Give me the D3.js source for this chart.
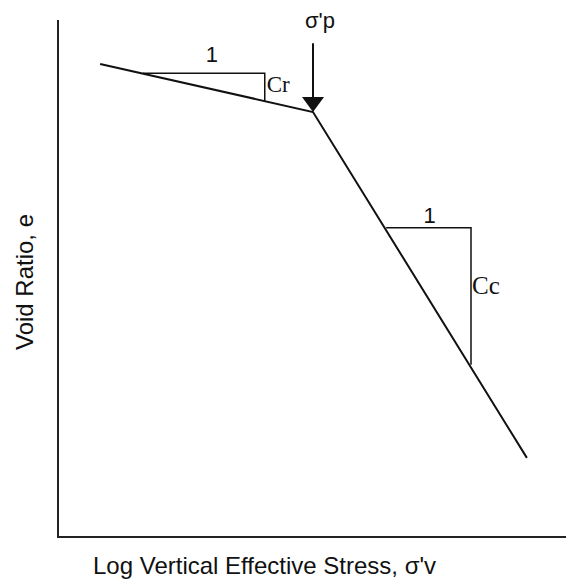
<!DOCTYPE html>
<html>
<head>
<meta charset="utf-8">
<script src="https://cdn.jsdelivr.net/npm/d3@7"></script>
<style>
  body { margin: 0; background: #fff; }
  text { fill: #111; }
  .sans { font-family: "Liberation Sans", Arial, sans-serif; }
  .serif { font-family: "Liberation Serif", "Times New Roman", serif; }
</style>
</head>
<body>
<div class="item"></div>
<script>
var width = 566;
var height = 581;

// e - log(sigma'v) curve, x in log cycles, y in void ratio (arbitrary units)
var curveLogStress = [0.83, 5.02, 9.23];
var curveVoidRatio = [9.15, 8.22, 1.53];

// slope triangles
var crLogStress = [1.67, 4.07];
var crVoidRatio = [8.97, 8.43];
var ccLogStress = [6.46, 8.13];
var ccVoidRatio = [5.98, 3.33];

// preconsolidation arrow top
var arrowTopVoidRatio = 9.55;

var labels = { x: "Log Vertical Effective Stress, σ'v", y: "Void Ratio, e",
               pc: "σ'p", cr: "Cr", cc: "Cc", run: "1" };

var x = d3.scaleLinear().domain([0, 10]).range([58, 566]);
var y = d3.scaleLinear().domain([0, 10]).range([537, 20]);

var svg = d3.select(".item")
    .append("svg")
    .attr("width", width)
    .attr("height", height);

// axes (plain lines, no ticks)
svg.append("line")
    .attr("x1", x(0)).attr("y1", y(10))
    .attr("x2", x(0)).attr("y2", y(0))
    .attr("stroke", "#222").attr("stroke-width", 2);
svg.append("line")
    .attr("x1", x(0) - 1).attr("y1", y(0))
    .attr("x2", x(10)).attr("y2", y(0))
    .attr("stroke", "#222").attr("stroke-width", 2);

// curve
var pts = curveLogStress.map(function(d, i) { return [d, curveVoidRatio[i]]; });
var line = d3.line()
    .x(function(d) { return x(d[0]); })
    .y(function(d) { return y(d[1]); });

svg.append("path")
    .attr("d", line(pts))
    .attr("fill", "none")
    .attr("stroke", "#111")
    .attr("stroke-width", 2);

// triangles
function triangle(xs, ys) {
    return line([[xs[0], ys[0]], [xs[1], ys[0]], [xs[1], ys[1]]]);
}
svg.append("path")
    .attr("d", triangle(crLogStress, crVoidRatio))
    .attr("fill", "none").attr("stroke", "#111").attr("stroke-width", 1.5);
svg.append("path")
    .attr("d", triangle(ccLogStress, ccVoidRatio))
    .attr("fill", "none").attr("stroke", "#111").attr("stroke-width", 1.5);

// arrow to preconsolidation point
var kx = x(curveLogStress[1]), ky = y(curveVoidRatio[1]);
svg.append("line")
    .attr("x1", kx).attr("y1", y(arrowTopVoidRatio))
    .attr("x2", kx).attr("y2", ky - 10)
    .attr("stroke", "#111").attr("stroke-width", 2);
svg.append("path")
    .attr("d", "M" + (kx - 11) + "," + (ky - 15) + "L" + (kx + 11) + "," + (ky - 15) + "L" + kx + "," + ky + "Z")
    .attr("fill", "#111");

// labels
svg.append("text").attr("class", "sans")
    .attr("x", kx - 8).attr("y", 28)
    .style("font-size", "22px")
    .text(labels.pc);

svg.append("text").attr("class", "sans")
    .attr("x", (x(crLogStress[0]) + x(crLogStress[1])) / 2 + 8)
    .attr("y", y(crVoidRatio[0]) - 11)
    .attr("text-anchor", "middle")
    .style("font-size", "22px")
    .text(labels.run);
svg.append("text").attr("class", "serif")
    .attr("x", x(crLogStress[1]) + 2)
    .attr("y", 92)
    .style("font-size", "23px")
    .text(labels.cr);

svg.append("text").attr("class", "sans")
    .attr("x", (x(ccLogStress[0]) + x(ccLogStress[1])) / 2 + 1)
    .attr("y", y(ccVoidRatio[0]) - 5)
    .attr("text-anchor", "middle")
    .style("font-size", "22px")
    .text(labels.run);
svg.append("text").attr("class", "serif")
    .attr("x", x(ccLogStress[1]) + 1)
    .attr("y", 294)
    .style("font-size", "25px")
    .text(labels.cc);

// axis titles
svg.append("text").attr("class", "sans")
    .attr("x", 93).attr("y", 574)
    .style("font-size", "24px")
    .text(labels.x);

svg.append("text").attr("class", "sans")
    .attr("transform", "translate(33,282) rotate(-90)")
    .attr("text-anchor", "middle")
    .style("font-size", "24px")
    .text(labels.y);
</script>
</body>
</html>
